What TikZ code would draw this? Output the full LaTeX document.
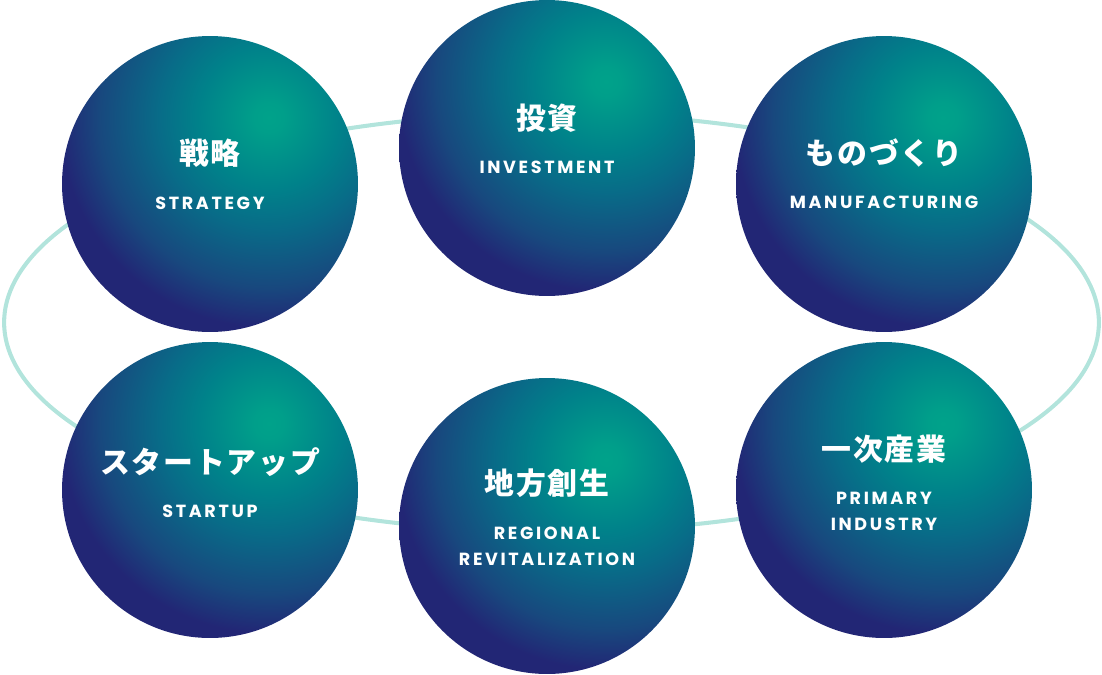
\documentclass[tikz,border=0pt]{standalone}
\usepackage{fontspec}
\usepackage{tikz}
\usetikzlibrary{positioning,calc}
\newfontfamily\jpfont{Noto Sans CJK JP}[LetterSpace=6]
\newfontfamily\enfont{Poppins}[LetterSpace=15]
\definecolor{hlcol}{RGB}{0,162,138}
\definecolor{tealcol}{RGB}{0,130,138}
\definecolor{midcol}{RGB}{8,108,136}
\definecolor{deepcol}{RGB}{24,72,126}
\definecolor{navycol}{RGB}{34,38,117}
\definecolor{ringcol}{RGB}{178,228,220}
% concentric shading, 25bp = 5cm
\pgfdeclareradialshading{ballshade}{\pgfpointorigin}{%
  color(0bp)=(hlcol); color(1.5bp)=(hlcol!90!tealcol); color(7bp)=(tealcol);
  color(11bp)=(midcol); color(17bp)=(deepcol); color(21bp)=(navycol);
  color(25bp)=(navycol)}

\begin{document}
\begin{tikzpicture}[
  x=0.02cm, y=-0.02cm,
  ball/.style={circle, minimum size=5.92cm, inner sep=0pt,
    path picture={\shade[shading=ballshade]
      ($(path picture bounding box.center)+(1.18cm,1.33cm)$) circle (5cm);}},
  ring/.style={draw=ringcol, line width=2.3pt},
  jp/.style={text=white, font=\jpfont\bfseries\fontsize{17}{20}\selectfont, inner sep=0pt},
  en/.style={text=white, font=\enfont\bfseries\fontsize{10}{14.8}\selectfont,
             align=center, inner sep=0pt}
]
\useasboundingbox (0,0) rectangle (1102,674);

\draw[ring] (551.5,322.5) ellipse [x radius=10.95cm, y radius=4.18cm];

\node[ball] (str) at (210,184) {};
\node[ball] (inv) at (547,148) {};
\node[ball] (mfg) at (884,184) {};
\node[ball] (stu) at (210,490) {};
\node[ball] (reg) at (547,526) {};
\node[ball] (pri) at (884,490) {};

\node[jp] (strjp) at ($(str)+(0,-31)$) {戦略};
\node[en, below=1.0cm of strjp.center, anchor=center] {STRATEGY};

\node[jp] (invjp) at ($(inv)+(0,-30)$) {投資};
\node[en, below=0.98cm of invjp.center, anchor=center] {INVESTMENT};

\node[jp] (mfgjp) at ($(mfg)+(0,-31)$) {ものづくり};
\node[en, below=0.98cm of mfgjp.center, anchor=center] {MANUFACTURING};

\node[jp] (stujp) at ($(stu)+(0,-28)$) {スタートアップ};
\node[en, below=0.98cm of stujp.center, anchor=center] {STARTUP};

\node[jp] (prijp) at ($(pri)+(0,-41)$) {一次産業};
\node[en, below=1.24cm of prijp.center, anchor=center] {PRIMARY\\INDUSTRY};

\node[jp] (regjp) at ($(reg)+(0,-43)$) {地方創生};
\node[en, below=1.26cm of regjp.center, anchor=center] {REGIONAL\\REVITALIZATION};

\end{tikzpicture}
\end{document}
